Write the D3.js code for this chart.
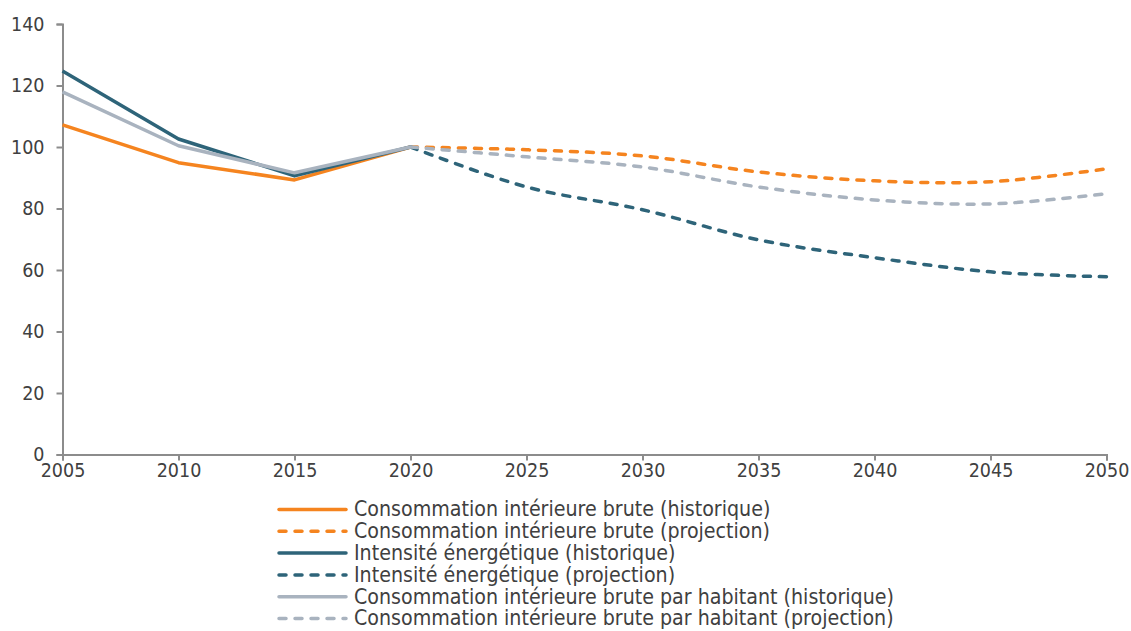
<!DOCTYPE html>
<html>
<head>
<meta charset="utf-8">
<script src="https://cdn.jsdelivr.net/npm/d3@7"></script>
<style>
  html, body { margin: 0; padding: 0; background: #fff; }
  svg { display: block; font-family: "DejaVu Sans Condensed", "DejaVu Sans", sans-serif; }
</style>
</head>
<body>
<svg id="chart" width="1131" height="631"></svg>
<script>
// ---- Data ----
const yearsHist = [2005, 2010, 2015, 2020];
const yearsProj = [2020, 2025, 2030, 2035, 2040, 2045, 2050];
const consoHist = [107.2, 94.9, 89.3, 100];
const consoProj = [100, 99.1, 97.1, 91.9, 89.0, 88.7, 92.9];
const intensHist = [124.7, 102.6, 90.6, 100];
const intensProj = [100, 87.0, 79.6, 69.8, 64.0, 59.4, 57.8];
const habHist = [117.9, 100.4, 91.6, 100];
const habProj = [100, 96.8, 93.5, 87.0, 82.8, 81.5, 84.8];
const xTicks = [2005, 2010, 2015, 2020, 2025, 2030, 2035, 2040, 2045, 2050];
const yTicks = [0, 20, 40, 60, 80, 100, 120, 140];
const legendLabels = [
  "Consommation intérieure brute (historique)",
  "Consommation intérieure brute (projection)",
  "Intensité énergétique (historique)",
  "Intensité énergétique (projection)",
  "Consommation intérieure brute par habitant (historique)",
  "Consommation intérieure brute par habitant (projection)"
];

const ORANGE = "#F5841F", TEAL = "#2E6479", GREY = "#A9B3BF";
const series = [
  { years: yearsHist, values: consoHist, color: ORANGE, dashed: false },
  { years: yearsProj, values: consoProj, color: ORANGE, dashed: true },
  { years: yearsHist, values: intensHist, color: TEAL, dashed: false },
  { years: yearsProj, values: intensProj, color: TEAL, dashed: true },
  { years: yearsHist, values: habHist, color: GREY, dashed: false },
  { years: yearsProj, values: habProj, color: GREY, dashed: true }
];

const svg = d3.select("#chart");
const x = d3.scaleLinear().domain([2005, 2050]).range([62.5, 1106.5]);
const y = d3.scaleLinear().domain([0, 140]).range([454.5, 24]);

const AXIS = "#8C8C8C", TXT = "#404040";

// axes
const yAxis = svg.append("g").attr("transform", `translate(${x(2005)},0)`)
  .call(d3.axisLeft(y).tickValues(yTicks).tickSize(6).tickPadding(12).tickFormat(d3.format("d")));
const xAxis = svg.append("g").attr("transform", `translate(0,${y(0)})`)
  .call(d3.axisBottom(x).tickValues(xTicks).tickSize(6).tickPadding(3).tickFormat(d3.format("d")));
[yAxis, xAxis].forEach(g => {
  g.select(".domain").attr("stroke", AXIS).attr("stroke-width", 2);
  g.selectAll(".tick line").attr("stroke", AXIS).attr("stroke-width", 2);
  g.selectAll(".tick text").attr("fill", TXT).style("font-size", "19.5px")
    .style("font-family", '"DejaVu Sans Condensed", "DejaVu Sans", sans-serif');
});

// lines
series.forEach((s, i) => {
  const pts = s.years.map((yr, j) => [yr, s.values[j]]);
  const line = d3.line().x(d => x(d[0])).y(d => y(d[1]))
    .curve(s.dashed ? d3.curveCatmullRom.alpha(0.5) : d3.curveLinear);
  svg.append("path").datum(pts)
    .attr("d", line)
    .attr("fill", "none")
    .attr("stroke", s.color)
    .attr("stroke-width", 3.5)
    .attr("stroke-linejoin", "round")
    .attr("stroke-linecap", s.dashed ? "round" : "butt")
    .attr("stroke-dasharray", s.dashed ? "7,9" : null);
});

// legend
const lg = svg.append("g");
legendLabels.forEach((lab, i) => {
  const s = series[i];
  const cy = 509.5 + i * 21.8;
  lg.append("line").attr("x1", 279).attr("x2", 346).attr("y1", cy).attr("y2", cy)
    .attr("stroke", s.color).attr("stroke-width", 3.5)
    .attr("stroke-linecap", "round")
    .attr("stroke-dasharray", s.dashed ? "7,9" : null);
  lg.append("text").attr("x", 354).attr("y", cy).attr("dy", "0.33em")
    .attr("fill", TXT).style("font-size", "21.2px").text(lab);
});
</script>
</body>
</html>
